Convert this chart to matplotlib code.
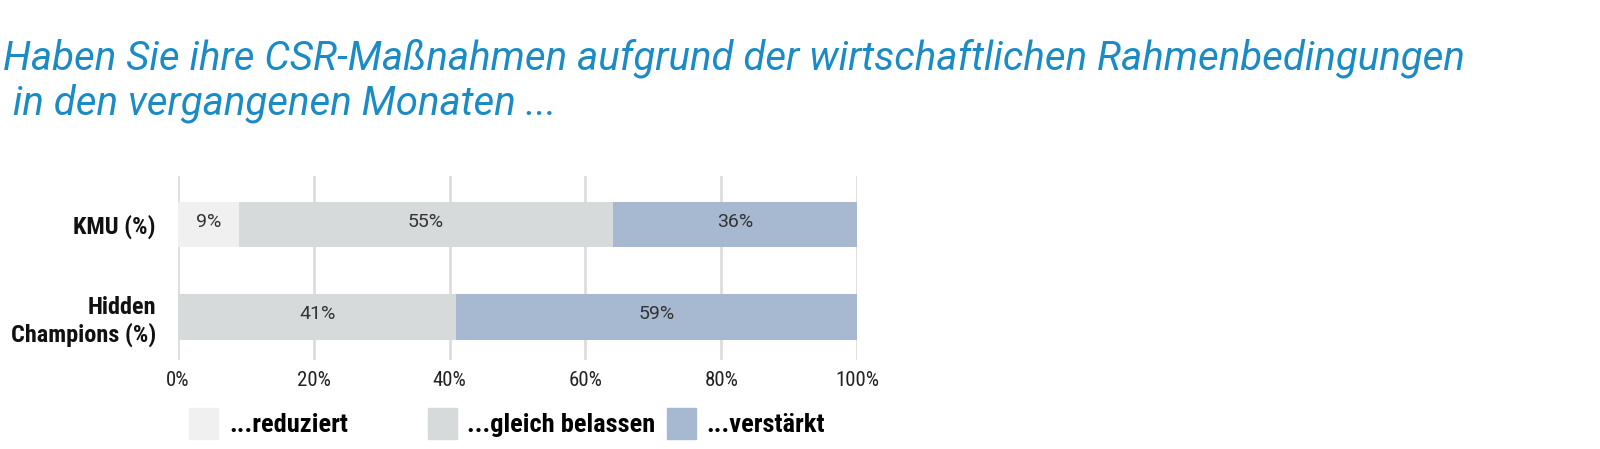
import matplotlib.pyplot as plt
from matplotlib.patches import Patch
import numpy as np

groups = ['KMU (%)', 'Hidden\nChampions (%)']
series = ['...reduziert', '...gleich belassen', '...verstärkt']
reduziert = [9, 0]
gleich = [55, 41]
verstaerkt = [36, 59]
colors = ['#f0f0f0', '#d7dadb', '#a7b9d1']
ticks = [0, 20, 40, 60, 80, 100]

title = ('Haben Sie ihre CSR-Maßnahmen aufgrund der wirtschaftlichen Rahmenbedingungen\n'
         ' in den vergangenen Monaten ...')

cond = ['Roboto Condensed', 'Liberation Sans Narrow', 'DejaVu Sans']

fig = plt.figure(figsize=(16, 4.49), dpi=100)
ax = fig.add_axes([0.11125, 0.198, 0.4244, 0.41])

y = np.arange(len(groups))
left = np.zeros(len(groups))
for vals, col, name in zip([reduziert, gleich, verstaerkt], colors, series):
    vals = np.array(vals, dtype=float)
    ax.barh(y, vals, left=left, height=0.49, color=col, label=name, zorder=2)
    for yi, v, l in zip(y, vals, left):
        if v > 0:
            ax.text(l + v / 2, yi - 0.03, f'{int(v)}%', ha='center', va='center',
                    fontsize=14, color='#333333', family=['Roboto', 'DejaVu Sans'], zorder=3)
    left += vals

ax.set_xlim(0, 100)
ax.set_ylim(1.465, -0.524)
ax.set_xticks(ticks)
ax.set_xticklabels([f'{t}%' for t in ticks], family=cond, fontsize=15, color='#222222')
ax.set_yticks(y)
ax.set_yticklabels(groups, family=cond, fontsize=17.5, fontweight='bold', color='#111111')
ax.tick_params(axis='both', length=0)
ax.tick_params(axis='x', pad=8)
ax.tick_params(axis='y', pad=16)
ax.grid(axis='x', color='#dddddd', linewidth=2, zorder=0)
for s in ax.spines.values():
    s.set_visible(False)

fig.text(0.002, 0.915, title, ha='left', va='top', fontsize=29, style='italic',
         color='#1a8bc4', family=['Roboto', 'DejaVu Sans'], linespacing=1.2)

xs = [0.1035, 0.2525, 0.4018]
for x0, col, name in zip(xs, colors, series):
    fig.legend(handles=[Patch(color=col, label=name)], loc='lower left',
               bbox_to_anchor=(x0, -0.03), frameon=False, handlelength=1.1,
               handleheight=1.4, handletextpad=0.4,
               prop={'family': cond, 'size': 19, 'weight': 'bold'})

fig.savefig('out.png', dpi=100)
